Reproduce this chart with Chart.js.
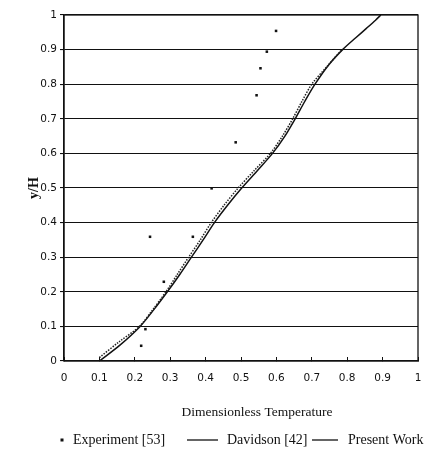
<!DOCTYPE html>
<html>
<head>
<meta charset="utf-8">
<title>y/H vs Dimensionless Temperature</title>
<script src="https://cdn.jsdelivr.net/npm/chart.js@4.4.0/dist/chart.umd.min.js"></script>
<style>
    html, body { margin: 0; padding: 0; background: #fff; }
    #wrap { position: relative; width: 426px; height: 458px; }
</style>
</head>
<body>
<div id="wrap"><canvas id="profileChart"></canvas></div>
<script>
// Experiment [53]
const expX = [0.599, 0.573, 0.555, 0.544, 0.485, 0.417, 0.364, 0.243, 0.282, 0.230, 0.218];
const expY = [0.954, 0.894, 0.846, 0.768, 0.632, 0.499, 0.359, 0.359, 0.229, 0.092, 0.044];

// Davidson [42]
const davX = [0.100, 0.155, 0.213, 0.252, 0.288, 0.320, 0.352, 0.385, 0.416, 0.452, 0.492, 0.537, 0.583, 0.617, 0.646, 0.672, 0.700, 0.742, 0.785];
const davY = [0.010, 0.055, 0.100, 0.150, 0.200, 0.250, 0.300, 0.350, 0.400, 0.450, 0.500, 0.550, 0.600, 0.650, 0.700, 0.750, 0.800, 0.850, 0.900];

// Present Work
const presX = [0.100, 0.158, 0.215, 0.255, 0.292, 0.327, 0.360, 0.393, 0.425, 0.462, 0.502, 0.546, 0.589, 0.624, 0.653, 0.680, 0.709, 0.747, 0.787, 0.825, 0.855, 0.880, 0.895];
const presY = [0.000, 0.046, 0.100, 0.150, 0.200, 0.250, 0.300, 0.350, 0.400, 0.450, 0.500, 0.550, 0.600, 0.650, 0.700, 0.750, 0.800, 0.855, 0.900, 0.935, 0.962, 0.985, 1.000];

// Axis tick labels
const xTickLabels = ['0', '0.1', '0.2', '0.3', '0.4', '0.5', '0.6', '0.7', '0.8', '0.9', '1'];
const yTickLabels = ['0', '0.1', '0.2', '0.3', '0.4', '0.5', '0.6', '0.7', '0.8', '0.9', '1'];

const xTitle = 'Dimensionless Temperature';
const yTitle = 'y/H';

const tickFont = { family: '"DejaVu Sans", Verdana, sans-serif', size: 10.5 };
const serif = '"Liberation Serif", "Times New Roman", serif';

function toPoints(xs, ys) {
    return xs.map((x, i) => ({ x: x, y: ys[i] }));
}

function tickText(labels) {
    return function(value) {
        const idx = Math.round(value * 10);
        return labels[idx] !== undefined ? labels[idx] : '';
    };
}

// Box around the plotting area
const framePlugin = {
    id: 'frame',
    afterDatasetsDraw(chart) {
        const { ctx, chartArea: a } = chart;
        ctx.save();
        ctx.strokeStyle = '#111';
        ctx.lineWidth = 1.3;
        ctx.strokeRect(a.left, a.top, a.right - a.left, a.bottom - a.top);
        ctx.restore();
    }
};

// X axis caption and the legend row underneath it
const captionPlugin = {
    id: 'captions',
    afterDraw(chart, args, opts) {
        const ctx = chart.ctx;
        ctx.save();
        ctx.fillStyle = '#111';
        ctx.textBaseline = 'middle';

        ctx.font = `13.5px ${serif}`;
        ctx.textAlign = 'center';
        ctx.fillText(xTitle, opts.titleX, opts.titleY);

        ctx.font = `14px ${serif}`;
        ctx.textAlign = 'left';
        chart.data.datasets.forEach((ds, i) => {
            const slot = opts.slots[i];
            ctx.strokeStyle = '#111';
            if (ds.showLine) {
                ctx.lineWidth = 1.3;
                ctx.beginPath();
                ctx.moveTo(slot.from, opts.legendY);
                ctx.lineTo(slot.to, opts.legendY);
                ctx.stroke();
            } else {
                ctx.fillRect(slot.from - 1.5, opts.legendY - 1.5, 3, 3);
            }
            ctx.fillText(ds.label, slot.text, opts.legendY);
        });
        ctx.restore();
    }
};

const ctx = document.getElementById('profileChart').getContext('2d');

new Chart(ctx, {
    type: 'scatter',
    data: {
        datasets: [
            {
                label: 'Experiment [53]',
                data: toPoints(expX, expY),
                showLine: false,
                pointStyle: 'rect',
                pointRadius: 1.8,
                backgroundColor: '#111',
                borderWidth: 0
            },
            {
                label: 'Davidson [42]',
                data: toPoints(davX, davY),
                showLine: true,
                borderColor: '#222',
                borderWidth: 1.5,
                borderDash: [1.5, 1.3],
                pointRadius: 0,
                tension: 0.3
            },
            {
                label: 'Present Work',
                data: toPoints(presX, presY),
                showLine: true,
                borderColor: '#111',
                borderWidth: 1.5,
                pointRadius: 0,
                tension: 0.3
            }
        ]
    },
    options: {
        responsive: true,
        maintainAspectRatio: false,
        animation: false,
        events: [],
        layout: {
            padding: { left: 0, right: 8, top: 15, bottom: 67 }
        },
        plugins: {
            legend: { display: false },
            tooltip: { enabled: false },
            captions: {
                titleX: 257,
                titleY: 412,
                legendY: 440,
                slots: [
                    { from: 62, to: 62, text: 73 },
                    { from: 187, to: 218, text: 227 },
                    { from: 312, to: 338, text: 348 }
                ]
            }
        },
        scales: {
            x: {
                type: 'linear',
                min: 0,
                max: 1,
                ticks: {
                    stepSize: 0.1,
                    font: tickFont,
                    color: '#111',
                    padding: 15,
                    maxRotation: 0,
                    callback: tickText(xTickLabels)
                },
                grid: {
                    drawOnChartArea: false,
                    drawTicks: true,
                    tickLength: -4,
                    color: '#111',
                    lineWidth: 1
                },
                border: { display: true, color: '#111', width: 1.3 },
                afterFit(scale) {
                    // tick marks point inward, so keep the side padding to the label halves
                    scale.height = 30;
                    scale.paddingLeft = 4;
                    scale.paddingRight = 4;
                }
            },
            y: {
                type: 'linear',
                min: 0,
                max: 1,
                ticks: {
                    stepSize: 0.1,
                    font: tickFont,
                    color: '#111',
                    padding: 3,
                    callback: tickText(yTickLabels)
                },
                grid: {
                    color: '#111',
                    lineWidth: 1.1,
                    drawTicks: true,
                    tickLength: 4
                },
                border: { display: true, color: '#111', width: 1.3 },
                title: {
                    display: true,
                    text: yTitle,
                    color: '#111',
                    font: { family: serif, size: 14, weight: 'bold' },
                    padding: { top: 26, bottom: 0 }
                },
                afterFit(scale) { scale.width = 64; }
            }
        }
    },
    plugins: [framePlugin, captionPlugin]
});
</script>
</body>
</html>
